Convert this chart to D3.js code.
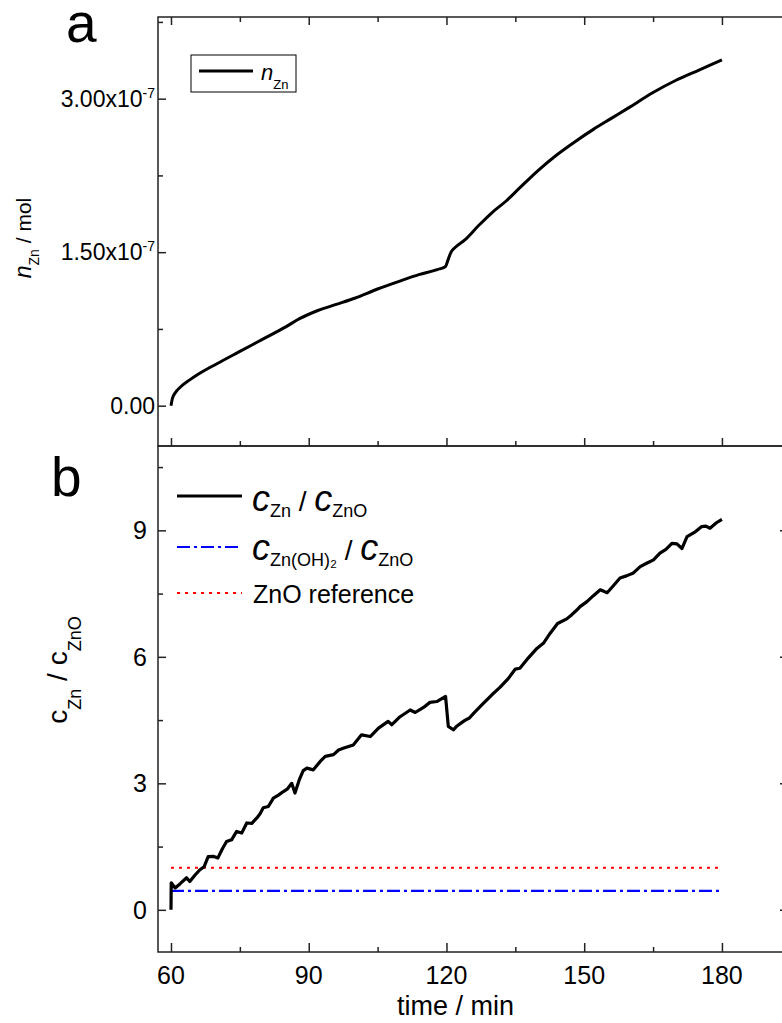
<!DOCTYPE html>
<html>
<head>
<meta charset="utf-8">
<script src="https://cdn.jsdelivr.net/npm/d3@7"></script>
<style>
  body { margin: 0; background: white; }
  svg { display: block; font-family: "Liberation Sans", Arial, sans-serif; }
  .tick line { stroke: #222; stroke-width: 1.5; }
</style>
</head>
<body>
<svg id="chart" width="782" height="1023"></svg>
<script>
// panel a: amount of Zn (mol) vs time (min)
var nZnTime = [60, 60.3, 61, 62, 64, 66, 70, 75, 80, 85, 88, 92, 96, 100, 105, 110, 114, 118,
  119.8, 120.3, 121, 122, 124, 127, 130, 133, 136, 140, 144, 148, 152, 156, 160, 165, 170, 175, 180]
var nZnValues = [0, 0.7e-8, 1.3e-8, 1.8e-8, 2.5e-8, 3.1e-8, 4.1e-8, 5.3e-8, 6.5e-8, 7.7e-8, 8.5e-8,
  9.3e-8, 9.9e-8, 1.05e-7, 1.14e-7, 1.22e-7, 1.28e-7, 1.33e-7,
  1.36e-7, 1.42e-7, 1.50e-7, 1.55e-7, 1.62e-7, 1.76e-7, 1.89e-7, 2.00e-7, 2.13e-7, 2.30e-7,
  2.45e-7, 2.58e-7, 2.70e-7, 2.81e-7, 2.92e-7, 3.06e-7, 3.18e-7, 3.28e-7, 3.38e-7]

// panel b: c_Zn / c_ZnO ratio vs time
var ratioTime = [60, 60.05, 60.9, 62, 63.4, 64.1, 65.2, 66.3, 67.2, 68.1, 69.2, 70.2, 71.2, 72.1,
  73.2, 74.3, 75.4, 76.5, 77.6, 78.7, 79.4, 80.1, 81.2, 82.3, 83.4, 84.4, 85.3, 86.3, 87, 88,
  88.8, 89.6, 91, 92.5, 93.6, 95.4, 96.5, 97.5, 99.7, 101.5, 103.4, 105.2, 107.3, 108.1, 109.9,
  112.1, 113.2, 115, 116.4, 117.9, 119.8, 120.4, 121.5, 122.3, 123.3, 124.1, 125, 125.9, 127.7,
  129.9, 131.7, 133.5, 135, 136, 137.8, 139.7, 141.1, 142.6, 144.2, 146.2, 147.3, 148.4, 149.1,
  150.6, 152, 153.5, 155, 156.3, 157.8, 159.2, 160.6, 162.2, 163.6, 165.1, 166.5, 167.8, 169.1,
  170.2, 171.3, 172.4, 174, 175.6, 176.5, 177.4, 178.8, 180]
var ratioValues = [0, 0.64, 0.52, 0.62, 0.76, 0.67, 0.82, 0.95, 1.02, 1.26, 1.27, 1.23, 1.45, 1.62,
  1.66, 1.86, 1.82, 2.06, 2.05, 2.18, 2.28, 2.42, 2.45, 2.65, 2.72, 2.80, 2.86, 3.00, 2.77, 3.10,
  3.30, 3.36, 3.32, 3.52, 3.64, 3.68, 3.79, 3.83, 3.91, 4.15, 4.11, 4.31, 4.47, 4.39, 4.58,
  4.74, 4.68, 4.80, 4.92, 4.94, 5.06, 4.35, 4.27, 4.36, 4.44, 4.50, 4.55, 4.66, 4.86,
  5.10, 5.28, 5.49, 5.71, 5.73, 5.97, 6.20, 6.32, 6.56, 6.79, 6.90, 7.00, 7.11, 7.19,
  7.31, 7.45, 7.59, 7.52, 7.68, 7.87, 7.92, 7.98, 8.14, 8.22, 8.30, 8.46, 8.55, 8.69,
  8.68, 8.57, 8.85, 8.95, 9.09, 9.10, 9.05, 9.18, 9.26]

// constant reference levels
var refTime = [60, 180]
var znOH2Level = [0.45, 0.45]
var znoRefLevel = [1.0, 1.0]

var xTicks = [60, 90, 120, 150, 180]
var xMinorTicks = [75, 105, 135, 165]
var aTicks = [0, 1.5e-7, 3e-7]
var aMinorTicks = [0.75e-7, 2.25e-7, 3.75e-7]
var bTicks = [0, 3, 6, 9]
var bMinorTicks = [1.5, 4.5, 7.5, 10.5]

var svg = d3.select('#chart')

var left = 158, right = 783
var aTop = 17, mid = 446, bBottom = 952

var x = d3.scaleLinear().domain([57.17, 193.3]).range([left, right])
var yA = d3.scaleLinear().domain([-0.394e-7, 3.798e-7]).range([mid, aTop])
var yB = d3.scaleLinear().domain([-1, 11]).range([bBottom, mid])

function tickAxis (axisFn, scale, values, size, transform) {
  var g = svg.append('g')
    .attr('transform', transform)
    .call(axisFn(scale).tickValues(values).tickSize(size).tickSizeOuter(0).tickFormat(''))
  g.select('.domain').remove()
  return g
}

// frames
function frame (top, bottom) {
  svg.append('rect')
    .attr('x', left).attr('y', top)
    .attr('width', right - left).attr('height', bottom - top)
    .attr('style', 'fill: none; stroke: #222; stroke-width: 1.5')
}
frame(aTop, mid)
frame(mid, bBottom)

// ticks, all pointing inward
tickAxis(d3.axisTop, x, xTicks, -8, 'translate(0,' + aTop + ')')
tickAxis(d3.axisTop, x, xMinorTicks, -5, 'translate(0,' + aTop + ')')
tickAxis(d3.axisBottom, x, xTicks, -8, 'translate(0,' + mid + ')')
tickAxis(d3.axisBottom, x, xMinorTicks, -5, 'translate(0,' + mid + ')')
tickAxis(d3.axisBottom, x, xTicks, -9, 'translate(0,' + bBottom + ')')
tickAxis(d3.axisBottom, x, xMinorTicks, -5, 'translate(0,' + bBottom + ')')
tickAxis(d3.axisLeft, yA, aTicks, -8, 'translate(' + left + ',0)')
tickAxis(d3.axisLeft, yA, aMinorTicks, -5, 'translate(' + left + ',0)')
tickAxis(d3.axisLeft, yB, bTicks, -8, 'translate(' + left + ',0)')
tickAxis(d3.axisLeft, yB, bMinorTicks, -5, 'translate(' + left + ',0)')
tickAxis(d3.axisRight, yB, bTicks, -3, 'translate(' + right + ',0)')

// x tick labels
svg.append('g').selectAll('text')
  .data(xTicks).enter().append('text')
  .attr('x', d => x(d)).attr('y', 984)
  .attr('text-anchor', 'middle')
  .attr('style', 'font-size: 25px')
  .text(d => d)

// panel a tick labels, like 1.50x10^-7
var aLab = svg.append('g').selectAll('text')
  .data(aTicks).enter().append('text')
  .attr('x', 155).attr('y', d => yA(d) + 8)
  .attr('text-anchor', 'end')
  .attr('style', 'font-size: 23px')
aLab.each(function (d) {
  var t = d3.select(this)
  if (d === 0) { t.text('0.00'); return }
  t.append('tspan').text((d / 1e-7).toFixed(2) + 'x10')
  t.append('tspan').attr('dy', -9).attr('style', 'font-size: 14px').text('-7')
})

// panel b tick labels
svg.append('g').selectAll('text')
  .data(bTicks).enter().append('text')
  .attr('x', 147).attr('y', d => yB(d) + 9)
  .attr('text-anchor', 'end')
  .attr('style', 'font-size: 25px')
  .text(d => d)

// axis titles
var ta = svg.append('text')
  .attr('transform', 'translate(31,238) rotate(-90)')
  .attr('text-anchor', 'middle')
ta.append('tspan').attr('style', 'font-size: 23px; font-style: italic').text('n')
ta.append('tspan').attr('dy', 8).attr('style', 'font-size: 14px').text('Zn')
ta.append('tspan').attr('dy', -8).attr('style', 'font-size: 21px').text(' / mol')

var tb = svg.append('text')
  .attr('transform', 'translate(67,670) rotate(-90)')
  .attr('text-anchor', 'middle')
tb.append('tspan').attr('style', 'font-size: 28px').text('c')
tb.append('tspan').attr('dy', 14).attr('style', 'font-size: 18px').text('Zn')
tb.append('tspan').attr('dy', -14).attr('style', 'font-size: 28px').text(' / c')
tb.append('tspan').attr('dy', 14).attr('style', 'font-size: 18px').text('ZnO')

svg.append('text')
  .attr('x', 397).attr('y', 1015)
  .attr('style', 'font-size: 27px')
  .text('time / min')

// panel letters
svg.append('text').attr('x', 66).attr('y', 42).attr('style', 'font-size: 55px').text('a')
svg.append('text').attr('x', 51).attr('y', 496).attr('style', 'font-size: 55px').text('b')

// data lines
var lineA = d3.line()
  .x((d, i) => x(nZnTime[i]))
  .y(d => yA(d))
  .curve(d3.curveMonotoneX)
svg.append('path')
  .attr('d', lineA(nZnValues))
  .attr('style', 'fill: none; stroke: black; stroke-width: 3; stroke-linejoin: round')

var refLine = d3.line().x((d, i) => x(refTime[i])).y(d => yB(d))
svg.append('path')
  .attr('d', refLine(znoRefLevel))
  .attr('style', 'fill: none; stroke: #ff0000; stroke-width: 2; stroke-dasharray: 3,5')
svg.append('path')
  .attr('d', refLine(znOH2Level))
  .attr('style', 'fill: none; stroke: #0000ff; stroke-width: 2.2; stroke-dasharray: 13,4,3,4')

var lineB = d3.line()
  .x((d, i) => x(ratioTime[i]))
  .y(d => yB(d))
svg.append('path')
  .attr('d', lineB(ratioValues))
  .attr('style', 'fill: none; stroke: black; stroke-width: 3.2; stroke-linejoin: round')

// legend a
svg.append('rect')
  .attr('x', 191).attr('y', 55).attr('width', 105).attr('height', 37)
  .attr('style', 'fill: white; stroke: black; stroke-width: 1')
svg.append('line')
  .attr('x1', 199).attr('x2', 253).attr('y1', 71).attr('y2', 71)
  .attr('style', 'stroke: black; stroke-width: 3')
var la = svg.append('text').attr('x', 261).attr('y', 80)
la.append('tspan').attr('style', 'font-size: 22px; font-style: italic').text('n')
la.append('tspan').attr('dy', 9).attr('style', 'font-size: 13px').text('Zn')

// legend b
var legRows = [
  { y: 496, style: 'stroke: black; stroke-width: 3' },
  { y: 547, style: 'stroke: #0000ff; stroke-width: 2.2; stroke-dasharray: 13,4,3,4' },
  { y: 593, style: 'stroke: #ff0000; stroke-width: 2; stroke-dasharray: 3,5' }
]
legRows.forEach(function (r) {
  svg.append('line')
    .attr('x1', 177).attr('x2', 242).attr('y1', r.y).attr('y2', r.y)
    .attr('style', r.style)
})

function ratioLegend (y, sub, dy) {
  var t = svg.append('text').attr('x', 252).attr('y', y)
  t.append('tspan').attr('style', 'font-size: 36px; font-style: italic').text('c')
  t.append('tspan').attr('dy', dy).attr('style', 'font-size: 18px').text(sub)
  t.append('tspan').attr('dy', -dy).attr('style', 'font-size: 28px').text(' / ')
  t.append('tspan').attr('style', 'font-size: 36px; font-style: italic').text('c')
  t.append('tspan').attr('dy', dy).attr('style', 'font-size: 18px').text('ZnO')
}
ratioLegend(511, 'Zn', 6)
ratioLegend(560, 'Zn(OH)\u2082', 6)

svg.append('text')
  .attr('x', 253).attr('y', 603)
  .attr('style', 'font-size: 25px')
  .text('ZnO reference')
</script>
</body>
</html>
